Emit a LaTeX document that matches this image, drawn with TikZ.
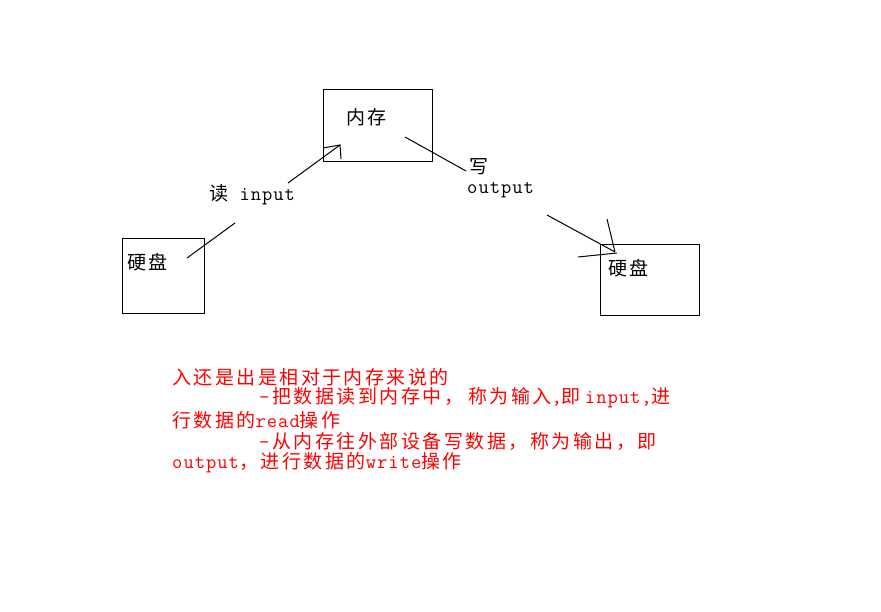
\documentclass[tikz,border=0pt]{standalone}
\usepackage{fontspec}
\newfontfamily\cjkf[LetterSpace=13]{Noto Sans CJK SC}
\newfontfamily\latf[LetterSpace=5]{Latin Modern Mono}
\newcommand\zh[1]{{\cjkf #1}}
\newcommand\en[1]{{\latf\fontsize{20}{21}\selectfont #1}}
\begin{document}
\begin{tikzpicture}[x=1pt,y=-1pt,
  box/.style={draw=black,line width=1pt,minimum width=#1,inner sep=0pt},
  txt/.style={anchor=west,inner sep=0pt,font=\fontsize{19}{21}\selectfont},
  note/.style={txt,text=red},
  wire/.style={draw=black,line width=1pt}]
\useasboundingbox (0,0) rectangle (881,612);
\fill[white] (0,0) rectangle (881,612);

% memory and the two disks
\node[box=109pt,minimum height=72pt] (mem) at (377.5,126) {};
\node[box=82pt,minimum height=75pt] (diskL) at (163,276.5) {};
\node[box=99pt,minimum height=71pt] (diskR) at (649.5,280.5) {};
\node[txt] (memtxt) at (346,117) {\zh{内存}};
\node[txt] (diskLtxt) at (127,262) {\zh{硬盘}};
\node[txt] (diskRtxt) at (608,268) {\zh{硬盘}};

% labels on the connectors
\node[txt] (readlbl) at (209,195) {\zh{读}\en{ input}};
\node[txt] (writelbl) at (469,167) {\zh{写}};
\node[txt] (outlbl) at (467,190) {\en{output}};

% read: disk -> memory, broken around its label
\coordinate (r1) at (187,258);
\coordinate (r2) at (235,223);
\coordinate (r3) at (288,183);
\coordinate (rtip) at (340,145);
\coordinate (rh1) at (323,148);
\coordinate (rh2) at (341,159);
\draw[wire] (r1) -- (r2);
\draw[wire] (r3) -- (rtip);
\draw[wire] (rh1) -- (rtip) -- (rh2);

% write: memory -> disk, broken around its label
\coordinate (w1) at (405,137);
\coordinate (w2) at (466,171);
\coordinate (w3) at (547,215);
\coordinate (wtip) at (615,252);
\coordinate (wh1) at (607,219);
\coordinate (wh2) at (578,257);
\coordinate (wh3) at (617,253);
\draw[wire] (w1) -- (w2);
\draw[wire] (w3) -- (wtip);
\draw[wire] (wh1) -- (wtip);
\draw[wire] (wh2) -- (wh3);

% explanatory notes
\node[note] (n1) at (172,377) {\zh{入还是出是相对于内存来说的}};
\node[note] (n2) at (259,398) {\en{-}\hspace{3pt}\zh{把数据读到内存中，}\hspace{5pt}\zh{称为输入}\en{,}\zh{即}\hspace{4pt}\en{input,}\zh{进}};
\node[note] (n3) at (172,420) {\zh{行数据的}\en{read}\zh{操作}};
\node[note] (n4) at (259,441) {\en{-}\hspace{3pt}\zh{从内存往外部设备写数据，称为输出，即}};
\node[note] (n5) at (172,463) {\en{output}\zh{，}\hspace{3pt}\zh{进行数据的}\en{write}\zh{操作}};
\end{tikzpicture}
\end{document}
